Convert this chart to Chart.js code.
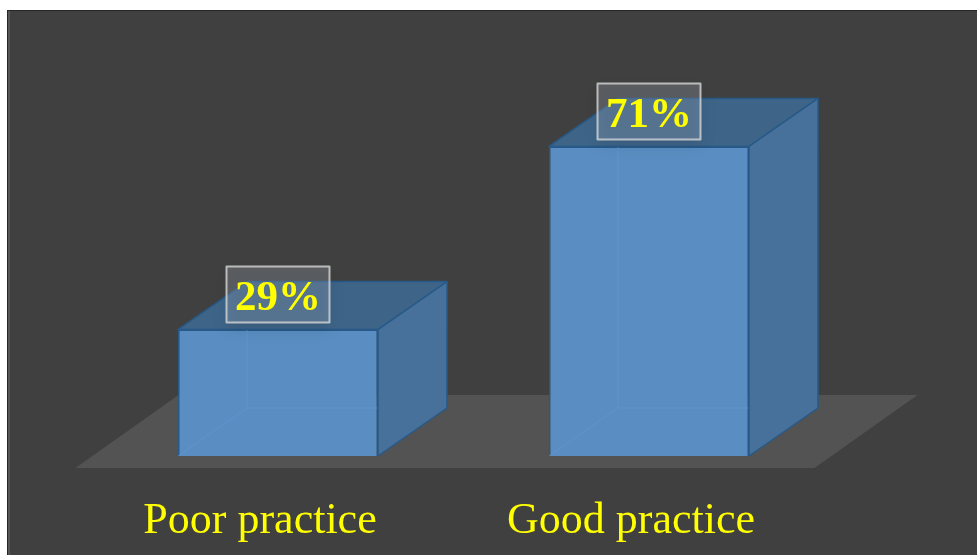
<!DOCTYPE html>
<html>
<head>
<meta charset="utf-8">
<script src="https://cdn.jsdelivr.net/npm/chart.js@4.4.1/dist/chart.umd.min.js"></script>
<style>
  html, body { margin: 0; padding: 0; background: #ffffff; }
  #frame { position: absolute; left: 7px; top: 10px; width: 970px; height: 545px; background: #262626; }
  #stockChart { position: absolute; left: 8px; top: 11px; background: #404040; }
  #strip { position: absolute; left: 8px; top: 11px; width: 2px; height: 544px; background: #565656; }
</style>
</head>
<body>
<div id="frame"></div>
<canvas id="stockChart" width="969" height="544"></canvas>
<div id="strip"></div>
<script>
const categories = ["Poor practice", "Good practice"];
const shares = [29, 71];
const valueLabels = ["29%", "71%"];

// depth of the fake 3d boxes
const dx = 69, dy = -48;

const cubePlugin = {
  id: "cube",
  beforeDatasetsDraw(chart) {
    const ctx = chart.ctx;
    const area = chart.chartArea;
    const y0 = chart.scales.y.getPixelForValue(0);
    // floor
    ctx.save();
    ctx.fillStyle = "#535353";
    ctx.beginPath();
    ctx.moveTo(area.left - 17, y0 + 12);
    ctx.lineTo(area.right - 20, y0 + 12);
    ctx.lineTo(area.right + 83, y0 - 61);
    ctx.lineTo(area.left + 86, y0 - 61);
    ctx.closePath();
    ctx.fill();
    ctx.restore();
  },
  afterDatasetsDraw(chart) {
    const ctx = chart.ctx;
    const meta = chart.getDatasetMeta(0);
    meta.data.forEach((bar, i) => {
      const L = bar.x - bar.width / 2, R = bar.x + bar.width / 2;
      const T = bar.y, B = bar.base;
      ctx.save();
      ctx.lineJoin = "round";

      // hidden back edges seen through the box
      ctx.strokeStyle = "rgba(95,150,210,0.8)";
      ctx.lineWidth = 1;
      ctx.beginPath();
      ctx.moveTo(L, B);
      ctx.lineTo(L + dx, B + dy);
      ctx.lineTo(R, B + dy);
      ctx.moveTo(L + dx, B + dy);
      ctx.lineTo(L + dx, T);
      ctx.stroke();

      // top face
      ctx.strokeStyle = "#275a89";
      ctx.lineWidth = 1.5;
      ctx.fillStyle = "#3e6588";
      ctx.beginPath();
      ctx.moveTo(L, T);
      ctx.lineTo(R, T);
      ctx.lineTo(R + dx, T + dy);
      ctx.lineTo(L + dx, T + dy);
      ctx.closePath();
      ctx.fill();
      ctx.stroke();

      // right face
      ctx.fillStyle = "#47719a";
      ctx.beginPath();
      ctx.moveTo(R, T);
      ctx.lineTo(R + dx, T + dy);
      ctx.lineTo(R + dx, B + dy);
      ctx.lineTo(R, B);
      ctx.closePath();
      ctx.fill();
      ctx.stroke();

      // value label box
      const bw = 103, bh = 56;
      const cx = bar.x, cy = T - 35;
      ctx.shadowColor = "rgba(20,30,45,0.6)";
      ctx.shadowBlur = 14;
      ctx.shadowOffsetY = 6;
      ctx.fillStyle = "rgba(190,200,215,0.22)";
      ctx.fillRect(cx - bw / 2, cy - bh / 2, bw, bh);
      ctx.shadowColor = "transparent";
      ctx.strokeStyle = "rgba(215,215,215,0.8)";
      ctx.lineWidth = 2;
      ctx.strokeRect(cx - bw / 2, cy - bh / 2, bw, bh);
      ctx.fillStyle = "#ffff00";
      ctx.font = "bold 43px 'Liberation Serif', 'DejaVu Serif', serif";
      ctx.textAlign = "center";
      ctx.textBaseline = "middle";
      ctx.fillText(valueLabels[i], cx, cy + 4);
      ctx.restore();
    });
  }
};

const ctx = document.getElementById("stockChart").getContext("2d");
const chart = new Chart(ctx, {
  type: "bar",
  data: {
    labels: categories,
    datasets: [{
      data: shares,
      backgroundColor: "#5a8ec2",
      borderColor: "#275a89",
      borderWidth: 1.5,
      categoryPercentage: 0.539,
      barPercentage: 1
    }]
  },
  options: {
    responsive: false,
    devicePixelRatio: 1,
    animation: false,
    layout: { padding: { left: 84.5, right: 142.5, top: 9, bottom: 0 } },
    plugins: { legend: { display: false }, tooltip: { enabled: false } },
    scales: {
      x: {
        grid: { display: false, drawTicks: false },
        border: { display: false },
        afterFit: (scale) => { scale.height = 99; },
        ticks: {
          color: "#ffff00",
          font: { family: "'Liberation Serif', 'DejaVu Serif', serif", size: 44 },
          padding: 39,
          labelOffset: -18,
          maxRotation: 0
        }
      },
      y: { display: false, min: 0, max: 100 }
    }
  },
  plugins: [cubePlugin]
});
</script>
</body>
</html>
